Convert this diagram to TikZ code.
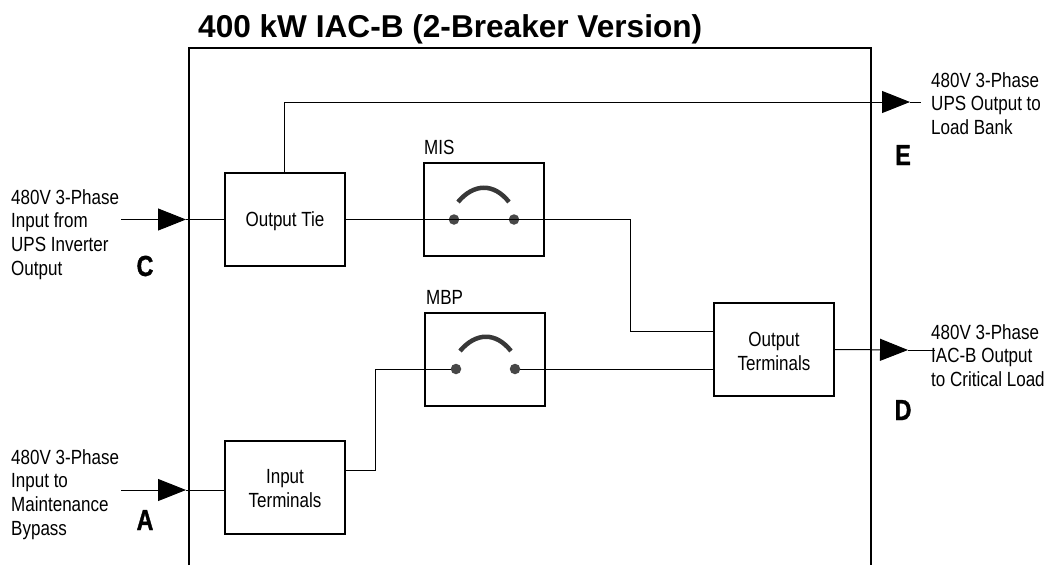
\documentclass[tikz,border=0pt]{standalone}
\usepackage{fontspec}
\setmainfont{Liberation Sans}
\newfontfamily\condfont[FakeStretch=0.83]{Liberation Sans}
\newfontfamily\condbold[FakeStretch=0.8,FakeBold=1.2]{Liberation Sans Bold}
\usetikzlibrary{arrows.meta}
\tikzset{
  wire/.style={line width=1pt,black},
  frameline/.style={line width=1.5pt,black},
  feedarrow/.style={line width=1pt,-{Triangle[length=28pt,width=22pt]},shorten >=0pt},
  blockbox/.style={draw,line width=1.3pt,minimum width=120pt,minimum height=93pt,inner sep=0pt},
  boxtext/.style={inner sep=0pt,align=center,yshift=-1.5pt,font=\condfont\fontsize{20.5}{24}\selectfont},
  contact/.style={circle,fill=black!72,minimum size=10.5pt,inner sep=0pt},
  lbl/.style={inner sep=0pt,align=left,font=\condfont\fontsize{20.5}{23.7}\selectfont},
  smalltag/.style={inner sep=0pt,font=\condfont\fontsize{20.5}{24}\selectfont},
  letter/.style={inner sep=0pt,font=\condbold\fontsize{29}{29}\selectfont},
  blade/.style={line width=4.5pt,black!78}
}
\begin{document}
\begin{tikzpicture}[x=1pt,y=-1pt]
\useasboundingbox (0,0) rectangle (1056,565);
% outer frame, open at the bottom
\coordinate (fbl) at (189,565);
\coordinate (ftl) at (189,48);
\coordinate (ftr) at (871,48);
\coordinate (fbr) at (871,565);
\draw[frameline] (fbl) -- (ftl) -- (ftr) -- (fbr);
\node[anchor=base west,inner sep=0pt,font=\bfseries\fontsize{31.6}{34}\selectfont] (title) at (198,37) {400 kW IAC-B (2-Breaker Version)};
% blocks
\node[blockbox,label={[boxtext]center:Output Tie}] (tie) at (285,219.5) {};
\node[blockbox,label={[boxtext]center:Input\\Terminals}] (inp) at (285,487.5) {};
\node[blockbox] (mis) at (484,209.5) {};
\node[blockbox] (mbp) at (485,359.5) {};
\node[blockbox,label={[boxtext]center:Output\\Terminals}] (out) at (774,349.5) {};
\node[smalltag,anchor=base west] (mistag) at (424,154) {MIS};
\node[smalltag,anchor=base west] (mbptag) at (426,304) {MBP};
% contacts
\node[contact] (m1) at (454,219.5) {};
\node[contact] (m2) at (514,219.5) {};
\node[contact] (b1) at (456,369) {};
\node[contact] (b2) at (515,369) {};
% blades
\draw[blade] (458,202) .. controls (474,183) and (494,183) .. (509,202);
\draw[blade] (460,351) .. controls (476,332) and (496,332) .. (511,351);
% wiring
\coordinate (cin) at (121,219.5);
\coordinate (ctip) at (186,219.5);
\coordinate (ain) at (121,490);
\coordinate (atip) at (186,490);
\draw[feedarrow] (cin) -- (ctip);
\draw[wire] (ctip) -- (tie.west);
\draw[feedarrow] (ain) -- (atip);
\coordinate (inpw) at (inp.west |- atip);
\draw[wire] (atip) -- (inpw);
\draw[wire] (tie.east) -- (m1.center) -- (m2.center) -- (630,219.5) -- (630,331) -- (out.west |- 630,331);
\coordinate (bend) at (375,369);
\draw[wire] (inp.east |- 375,470) -- (375,470) -- (bend) -- (b1);
\draw[wire] (b2) -- (out.west |- b2);
\coordinate (etip) at (910,102);
\coordinate (eend) at (921,102);
\draw[feedarrow] (tie.north -| 284,0) -- (284,102) -- (etip);
\draw[wire] (etip) -- (eend);
\coordinate (dtip) at (908,350);
\coordinate (dend) at (935,350);
\draw[feedarrow] (out.east) -- (dtip);
\draw[wire] (dtip) -- (dend);
% labels
\node[lbl,anchor=north west] (lc) at (11,189) {480V 3-Phase\\Input from\\UPS Inverter\\Output};
\node[lbl,anchor=north west] (la) at (11,449) {480V 3-Phase\\Input to\\Maintenance\\Bypass};
\node[lbl,anchor=north west] (le) at (931,72) {480V 3-Phase\\UPS Output to\\Load Bank};
\node[lbl,anchor=north west] (ld) at (931,324) {480V 3-Phase\\IAC-B Output\\to Critical Load};
\node[letter,anchor=base] (lC) at (145,276) {C};
\node[letter,anchor=base] (lA) at (145,530) {A};
\node[letter,anchor=base] (lE) at (903,165) {E};
\node[letter,anchor=base] (lD) at (903,420) {D};
\end{tikzpicture}
\end{document}
